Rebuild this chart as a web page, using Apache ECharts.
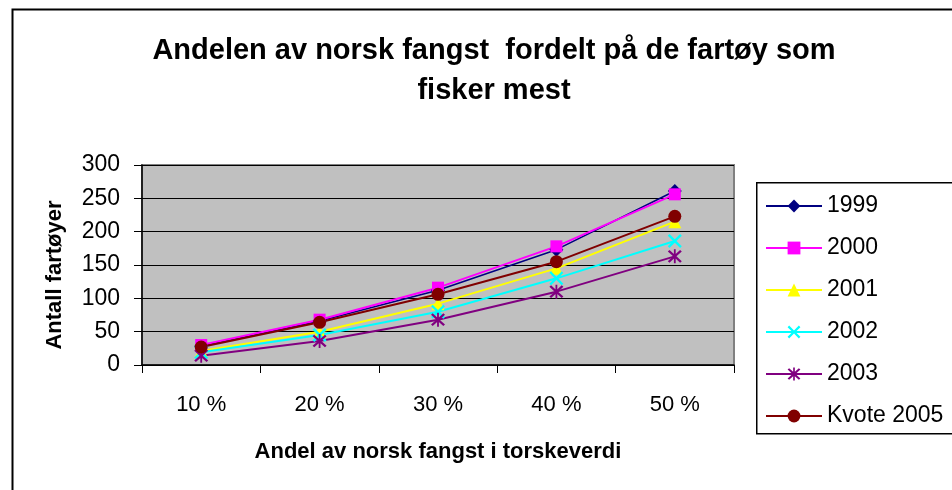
<!DOCTYPE html>
<html>
<head>
<meta charset="utf-8">
<script src="https://cdn.jsdelivr.net/npm/echarts@6/dist/echarts.min.js"></script>
<style>
  html, body { margin: 0; padding: 0; background: #fff; }
  #chart { width: 952px; height: 490px; }
</style>
</head>
<body>
<div id="chart"></div>
<script>
// kategorier (andel av fangst)
const categories = ['10 %', '20 %', '30 %', '40 %', '50 %'];
// antall fartøy per år
const s1999 = [28, 66, 112, 173, 261];
const s2000 = [30, 68, 116, 178, 256];
const s2001 = [21, 50, 92, 145, 215];
const s2002 = [19, 45, 80, 130, 186];
const s2003 = [14, 36, 68, 110, 163];
const kvote2005 = [27, 64, 106, 155, 223];
const yTicks = [0, 50, 100, 150, 200, 250, 300];

const FONT = '"Liberation Sans", Arial, sans-serif';
// kryss og stjerne som fylte figurer
const crossPath = 'path://M0,1.2L1.2,0L5,3.8L8.8,0L10,1.2L6.2,5L10,8.8L8.8,10L5,6.2L1.2,10L0,8.8L3.8,5Z';
const starPath = crossPath + 'M4.35,-0.5L5.65,-0.5L5.65,10.5L4.35,10.5Z';

function line(name, data, color, symbol, size, width) {
  return {
    name: name,
    type: 'line',
    data: data,
    symbol: symbol,
    symbolSize: size,
    showAllSymbol: true,
    lineStyle: { color: color, width: width || 2 },
    itemStyle: { color: color },
    emphasis: { disabled: true },
    animation: false
  };
}

const chart = echarts.init(document.getElementById('chart'));
chart.setOption({
  animation: false,
  backgroundColor: '#fff',
  title: {
    text: 'Andelen av norsk fangst  fordelt på de fartøy som\nfisker mest',
    left: 489,
    textAlign: 'center',
    top: 26,
    textStyle: { fontFamily: FONT, fontSize: 29, fontWeight: 'bold', color: '#000', lineHeight: 40 }
  },
  graphic: [
    { type: 'rect', left: 10, top: 7, shape: { width: 1000, height: 1000 },
      style: { fill: 'none', stroke: '#000', lineWidth: 2 }, z: 0 },
    { type: 'rect', left: 756, top: 182, shape: { width: 300, height: 251 },
      style: { fill: '#fff', stroke: '#000', lineWidth: 1.5 }, z: 0 }
  ],
  legend: {
    orient: 'vertical',
    left: 765,
    top: 193,
    padding: 0,
    itemWidth: 56,
    itemHeight: 16,
    itemGap: 16,
    textStyle: { fontFamily: FONT, fontSize: 23, color: '#000', lineHeight: 26 },
    data: ['1999', '2000', '2001', '2002', '2003', 'Kvote 2005']
  },
  grid: {
    left: 142, top: 165, width: 592, height: 200,
    show: true,
    backgroundColor: '#C0C0C0',
    borderColor: '#808080',
    borderWidth: 2
  },
  xAxis: {
    type: 'category',
    data: categories,
    boundaryGap: true,
    name: 'Andel av norsk fangst i torskeverdi',
    nameLocation: 'middle',
    nameGap: 76,
    nameTextStyle: { fontFamily: FONT, fontSize: 22, fontWeight: 'bold', color: '#000' },
    axisLine: { lineStyle: { color: '#000', width: 1.5 } },
    axisTick: { show: true, length: 8, lineStyle: { color: '#000' } },
    axisLabel: { margin: 29, fontFamily: FONT, fontSize: 22, color: '#000' }
  },
  yAxis: {
    type: 'value',
    min: 0,
    max: 300,
    interval: 50,
    name: 'Antall fartøyer',
    nameLocation: 'middle',
    nameGap: 76,
    nameRotate: 90,
    nameTextStyle: { fontFamily: FONT, fontSize: 22, fontWeight: 'bold', color: '#000', padding: [0, 20, 0, 0] },
    axisLine: { show: true, lineStyle: { color: '#000', width: 1.5 } },
    axisTick: { show: true, length: 8, lineStyle: { color: '#000' } },
    axisLabel: {
      margin: 22, fontFamily: FONT, fontSize: 23, color: '#000',
      formatter: v => yTicks.indexOf(v) >= 0 ? String(v) : ''
    },
    splitLine: { show: true, lineStyle: { color: '#000', width: 1 } }
  },
  series: [
    line('1999', s1999, '#000080', 'diamond', 14, 1.5),
    line('2000', s2000, '#FF00FF', 'rect', 12),
    line('2001', s2001, '#FFFF00', 'triangle', 13),
    line('2002', s2002, '#00FFFF', crossPath, 14),
    line('2003', s2003, '#800080', starPath, 14),
    line('Kvote 2005', kvote2005, '#800000', 'circle', 13)
  ]
});
</script>
</body>
</html>
